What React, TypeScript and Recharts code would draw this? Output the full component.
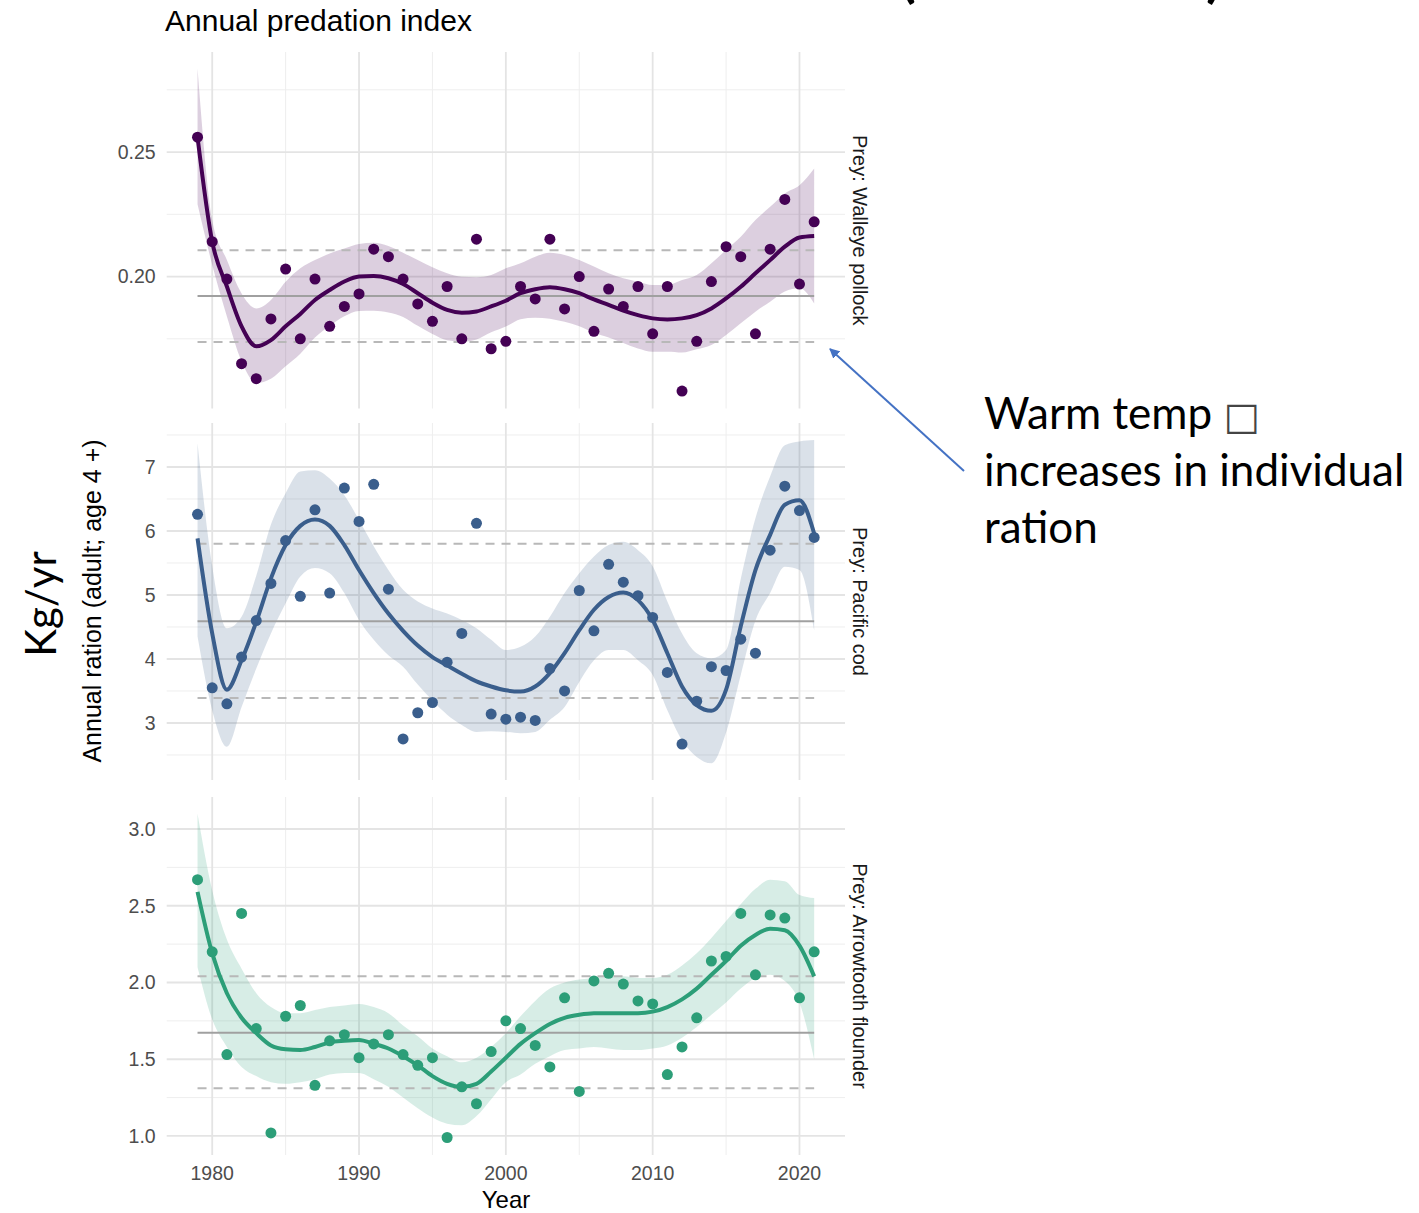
import React from 'react';
import { ComposedChart, Line, Area, Scatter, XAxis, YAxis, CartesianGrid, ReferenceLine } from 'recharts';

// ---------- data ----------
const years = [1979, 1980, 1981, 1982, 1983, 1984, 1985, 1986, 1987, 1988, 1989, 1990, 1991, 1992, 1993, 1994, 1995, 1996, 1997, 1998, 1999, 2000, 2001, 2002, 2003, 2004, 2005, 2006, 2007, 2008, 2009, 2010, 2011, 2012, 2013, 2014, 2015, 2016, 2017, 2018, 2019, 2020, 2021];

const xMajorTicks = [1980, 1990, 2000, 2010, 2020];
const xMinorTicks = [1985, 1995, 2005, 2015];

// Prey: Walleye pollock
const pollockObs = [0.256, 0.214, 0.199, 0.165, 0.159, 0.183, 0.203, 0.175, 0.199, 0.180, 0.188, 0.193, 0.211, 0.208, 0.199, 0.189, 0.182, 0.196, 0.175, 0.215, 0.171, 0.174, 0.196, 0.191, 0.215, 0.187, 0.200, 0.178, 0.195, 0.188, 0.196, 0.177, 0.196, 0.154, 0.174, 0.198, 0.212, 0.208, 0.177, 0.211, 0.231, 0.197, 0.222];
const pollockFit = [0.256, 0.214, 0.196, 0.180, 0.172, 0.1745, 0.180, 0.185, 0.1906, 0.1946, 0.198, 0.200, 0.2002, 0.1993, 0.197, 0.1933, 0.1895, 0.1866, 0.1855, 0.186, 0.188, 0.1903, 0.1933, 0.1949, 0.1957, 0.1949, 0.1933, 0.1908, 0.1886, 0.1863, 0.1845, 0.1832, 0.1828, 0.1832, 0.1845, 0.1872, 0.1912, 0.1959, 0.2013, 0.2066, 0.212, 0.2157, 0.2163];
const pollockHi = [0.2836, 0.2227, 0.2066, 0.1932, 0.1872, 0.1906, 0.1979, 0.2033, 0.2066, 0.2093, 0.2113, 0.2131, 0.2136, 0.2123, 0.2096, 0.2066, 0.2037, 0.2013, 0.1999, 0.1997, 0.2006, 0.2033, 0.2053, 0.2080, 0.2096, 0.2087, 0.2066, 0.2040, 0.2013, 0.1993, 0.1979, 0.1966, 0.1966, 0.1986, 0.2006, 0.2053, 0.2107, 0.2160, 0.2227, 0.2280, 0.2334, 0.2367, 0.2434];
const pollockLo = [0.229, 0.2047, 0.184, 0.166, 0.1573, 0.159, 0.164, 0.169, 0.1755, 0.1802, 0.1841, 0.1862, 0.1863, 0.1856, 0.1838, 0.1802, 0.1769, 0.1744, 0.1738, 0.1747, 0.1776, 0.1799, 0.1829, 0.1835, 0.1831, 0.1818, 0.18, 0.1774, 0.1755, 0.1733, 0.1711, 0.1698, 0.1698, 0.1695, 0.1708, 0.1725, 0.1765, 0.1812, 0.1859, 0.1899, 0.194, 0.1953, 0.1892];
const pollockRefs = { low: 0.1737, mean: 0.1922, high: 0.2106 };
const pollockTicks = [0.15, 0.20, 0.25];
const pollockMinor = [0.175, 0.225, 0.275];

// Prey: Pacific cod
const codObs = [6.26, 3.55, 3.30, 4.03, 4.60, 5.18, 5.85, 4.98, 6.33, 5.03, 6.67, 6.15, 6.73, 5.09, 2.75, 3.16, 3.32, 3.95, 4.40, 6.12, 3.14, 3.06, 3.09, 3.04, 3.85, 3.50, 5.07, 4.44, 5.48, 5.20, 4.99, 4.65, 3.79, 2.67, 3.34, 3.88, 3.82, 4.31, 4.09, 5.70, 6.70, 6.32, 5.90];
const codFit = [5.885, 4.40, 3.52, 3.98, 4.58, 5.26, 5.78, 6.08, 6.18, 6.08, 5.78, 5.39, 5.03, 4.71, 4.44, 4.21, 4.03, 3.90, 3.77, 3.65, 3.57, 3.51, 3.49, 3.57, 3.78, 4.09, 4.45, 4.77, 4.97, 5.04, 4.92, 4.61, 4.09, 3.57, 3.28, 3.19, 3.52, 4.51, 5.39, 5.94, 6.41, 6.48, 5.96];
const codHi = [7.37, 5.45, 4.48, 4.66, 5.30, 6.10, 6.59, 6.93, 6.95, 6.82, 6.56, 6.17, 5.76, 5.39, 5.08, 4.90, 4.79, 4.71, 4.61, 4.48, 4.30, 4.14, 4.19, 4.35, 4.66, 5.03, 5.34, 5.60, 5.78, 5.83, 5.70, 5.45, 4.90, 4.40, 4.09, 4.01, 4.14, 5.25, 6.20, 6.85, 7.34, 7.40, 7.42];
const codLo = [4.35, 3.20, 2.63, 3.25, 3.85, 4.40, 4.87, 5.29, 5.42, 5.34, 5.03, 4.61, 4.30, 4.06, 3.88, 3.60, 3.35, 3.13, 2.97, 2.86, 2.87, 2.86, 2.84, 2.86, 3.05, 3.25, 3.64, 3.98, 4.14, 4.14, 3.98, 3.75, 3.20, 2.73, 2.47, 2.37, 2.85, 3.75, 4.60, 5.03, 5.44, 5.39, 4.45];
const codRefs = { low: 3.39, mean: 4.59, high: 5.80 };
const codTicks = [3, 4, 5, 6, 7];
const codMinor = [2.5, 3.5, 4.5, 5.5, 6.5, 7.5];

// Prey: Arrowtooth flounder
const flounderObs = [2.67, 2.20, 1.53, 2.45, 1.70, 1.02, 1.78, 1.85, 1.33, 1.62, 1.66, 1.51, 1.60, 1.66, 1.53, 1.46, 1.51, 0.99, 1.32, 1.21, 1.55, 1.75, 1.70, 1.59, 1.45, 1.90, 1.29, 2.01, 2.06, 1.99, 1.88, 1.86, 1.40, 1.58, 1.77, 2.14, 2.17, 2.45, 2.05, 2.44, 2.42, 1.90, 2.20];
const flounderFit = [2.59, 2.19, 1.93, 1.77, 1.67, 1.59, 1.565, 1.56, 1.58, 1.61, 1.62, 1.625, 1.60, 1.57, 1.52, 1.46, 1.39, 1.34, 1.32, 1.34, 1.42, 1.51, 1.60, 1.67, 1.73, 1.77, 1.79, 1.80, 1.80, 1.80, 1.80, 1.81, 1.84, 1.89, 1.96, 2.05, 2.14, 2.24, 2.31, 2.35, 2.34, 2.24, 2.04];
const flounderHi = [3.10, 2.60, 2.28, 2.09, 1.93, 1.84, 1.80, 1.80, 1.82, 1.84, 1.85, 1.86, 1.84, 1.80, 1.72, 1.65, 1.57, 1.52, 1.48, 1.51, 1.58, 1.67, 1.78, 1.88, 1.96, 2.00, 2.02, 2.03, 2.04, 2.04, 2.03, 2.03, 2.05, 2.11, 2.19, 2.29, 2.40, 2.51, 2.61, 2.67, 2.66, 2.57, 2.55];
const flounderLo = [2.10, 1.76, 1.58, 1.45, 1.39, 1.35, 1.34, 1.35, 1.37, 1.40, 1.41, 1.41, 1.37, 1.32, 1.25, 1.18, 1.12, 1.08, 1.07, 1.13, 1.24, 1.35, 1.40, 1.47, 1.52, 1.56, 1.57, 1.58, 1.57, 1.56, 1.56, 1.57, 1.59, 1.64, 1.71, 1.79, 1.87, 1.96, 2.03, 2.05, 2.01, 1.87, 1.50];
const flounderRefs = { low: 1.311, mean: 1.672, high: 2.040 };
const flounderTicks = [1.0, 1.5, 2.0, 2.5, 3.0];
const flounderMinor = [1.25, 1.75, 2.25, 2.75];

// ---------- layout / style ----------
const FONT = '"Liberation Sans", Arial, Helvetica, sans-serif';
const ANNOT_FONT = 'Lato, "Open Sans", sans-serif';
const PLOT_LEFT = 166.7;
const PLOT_RIGHT = 845;
const Y_AXIS_W = 60;
const X_DOMAIN: [number, number] = [1976.9, 2023.1];

function buildRows(obs: number[], fit: number[], lo: number[], hi: number[]) {
  return years.map((y, i) => ({ year: y, obs: obs[i], fit: fit[i], band: [lo[i], hi[i]] }));
}

type PanelProps = {
  top: number;
  plotHeight: number;
  rows: any[];
  color: string;
  domain: [number, number];
  ticks: number[];
  minor: number[];
  refs: { low: number; mean: number; high: number };
  digits: number;
  showX: boolean;
  name: string;
};

const X_AXIS_H = 60;

function Panel(p: PanelProps) {
  const chartH = p.plotHeight + (p.showX ? X_AXIS_H : 0);
  const dotShape = (props: any) => (
    <circle cx={props.cx} cy={props.cy} r={5.5} fill={p.color} />
  );
  return (
    <div style={{ position: 'absolute', left: 0, top: p.top, width: 1419, height: chartH }}>
      <ComposedChart
        width={1419}
        height={chartH}
        data={p.rows}
        margin={{ top: 0, bottom: 0, left: PLOT_LEFT - Y_AXIS_W, right: 1419 - PLOT_RIGHT }}
      >
        <CartesianGrid
          stroke="#EEEEEE"
          strokeWidth={1}
          horizontalValues={p.minor}
          verticalValues={xMinorTicks}
        />
        <CartesianGrid
          stroke="#E4E4E4"
          strokeWidth={1.8}
          horizontalValues={p.ticks}
          verticalValues={xMajorTicks}
        />
        <XAxis
          type="number"
          dataKey="year"
          domain={X_DOMAIN}
          ticks={xMajorTicks}
          allowDataOverflow
          hide={!p.showX}
          height={X_AXIS_H}
          axisLine={false}
          tickLine={false}
          tickSize={0}
          tickMargin={11}
          tick={{ fill: '#4D4D4D', fontSize: 19.5, fontFamily: FONT }}
        />
        <YAxis
          type="number"
          domain={p.domain}
          ticks={p.ticks}
          allowDataOverflow
          width={Y_AXIS_W}
          axisLine={false}
          tickLine={false}
          tickSize={0}
          tickMargin={11}
          tickFormatter={(v: number) => v.toFixed(p.digits)}
          tick={{ fill: '#4D4D4D', fontSize: 19.5, fontFamily: FONT }}
        />
        <Area
          dataKey="band"
          type="monotone"
          stroke="none"
          fill={p.color}
          fillOpacity={0.19}
          isAnimationActive={false}
          activeDot={false}
        />
        <ReferenceLine
          segment={[{ x: 1979, y: p.refs.mean }, { x: 2021, y: p.refs.mean }]}
          stroke="#A0A0A0"
          strokeWidth={2}
        />
        <ReferenceLine
          segment={[{ x: 1979, y: p.refs.high }, { x: 2021, y: p.refs.high }]}
          stroke="#B8B8B8"
          strokeWidth={2}
          strokeDasharray="9 7"
        />
        <ReferenceLine
          segment={[{ x: 1979, y: p.refs.low }, { x: 2021, y: p.refs.low }]}
          stroke="#B8B8B8"
          strokeWidth={2}
          strokeDasharray="9 7"
        />
        <Line
          dataKey="fit"
          type="monotone"
          stroke={p.color}
          strokeWidth={4}
          dot={false}
          activeDot={false}
          isAnimationActive={false}
        />
        <Scatter dataKey="obs" fill={p.color} shape={dotShape} isAnimationActive={false} />
      </ComposedChart>
    </div>
  );
}

const PANELS = [
  { name: 'Prey: Walleye pollock', top: 52, plotHeight: 356.5, color: '#440154', domain: [0.147, 0.2902] as [number, number], ticks: pollockTicks, minor: pollockMinor, refs: pollockRefs, digits: 2, rows: buildRows(pollockObs, pollockFit, pollockLo, pollockHi) },
  { name: 'Prey: Pacific cod', top: 423, plotHeight: 357, color: '#3A5E8C', domain: [2.109, 7.6875] as [number, number], ticks: codTicks, minor: codMinor, refs: codRefs, digits: 0, rows: buildRows(codObs, codFit, codLo, codHi) },
  { name: 'Prey: Arrowtooth flounder', top: 797, plotHeight: 358, color: '#2C9E78', domain: [0.876, 3.2085] as [number, number], ticks: flounderTicks, minor: flounderMinor, refs: flounderRefs, digits: 1, rows: buildRows(flounderObs, flounderFit, flounderLo, flounderHi) },
];

export default function App() {
  return (
    <div style={{ position: 'absolute', left: 0, top: 0, width: 1419, height: 1213, background: '#FFFFFF', overflow: 'hidden' }}>
      {PANELS.map((pn, i) => (
        <Panel key={pn.name} {...pn} showX={i === PANELS.length - 1} />
      ))}
      <svg width={1419} height={1213} style={{ position: 'absolute', left: 0, top: 0, pointerEvents: 'none' }}>
        <defs>
          <marker id="arrowHead" viewBox="0 0 10 10" refX="9" refY="5" markerWidth="5" markerHeight="5" orient="auto">
            <path d="M0,0 L10,5 L0,10 z" fill="#4472C4" />
          </marker>
        </defs>
        {/* cut-off heading at top right (only the bottoms of the brackets show) */}
        <text x={900} y={-4} fontFamily={ANNOT_FONT} fontWeight={700} fontSize={58} fill="#000">(</text>
        <text x={1206} y={-4} fontFamily={ANNOT_FONT} fontWeight={700} fontSize={58} fill="#000">)</text>
        {/* plot title */}
        <text x={165} y={31} fontFamily={FONT} fontSize={30} fill="#000">Annual predation index</text>
        {/* x axis title */}
        <text x={506} y={1208} textAnchor="middle" fontFamily={FONT} fontSize={24} fill="#000">Year</text>
        {/* y axis title */}
        <text x={92} y={601} transform="rotate(-90 92 601)" textAnchor="middle" dominantBaseline="central" fontFamily={FONT} fontSize={25} fill="#000">Annual ration (adult; age 4 +)</text>
        {/* strip labels */}
        {PANELS.map((pn) => {
          const cy = pn.top + pn.plotHeight / 2;
          return (
            <text key={pn.name} x={860} y={cy} transform={`rotate(90 860 ${cy})`} textAnchor="middle" dominantBaseline="central" fontFamily={FONT} fontSize={20} fill="#1A1A1A">{pn.name}</text>
          );
        })}
        {/* slide annotations */}
        <text x={40} y={604} transform="rotate(-90 40 604)" textAnchor="middle" dominantBaseline="central" fontFamily={ANNOT_FONT} fontSize={42} fill="#000">Kg/yr</text>
        <line x1={964} y1={471} x2={830} y2={349} stroke="#4472C4" strokeWidth={2} markerEnd="url(#arrowHead)" />
        <text fontFamily={ANNOT_FONT} fontSize={44} fill="#000">
          <tspan x={984} y={429}>Warm temp </tspan>
          <tspan fontFamily='"DejaVu Sans", sans-serif' fontSize={38} fill="#444">□</tspan>
          <tspan x={984} y={486}>increases in individual</tspan>
          <tspan x={984} y={543}>ration</tspan>
        </text>
      </svg>
    </div>
  );
}
